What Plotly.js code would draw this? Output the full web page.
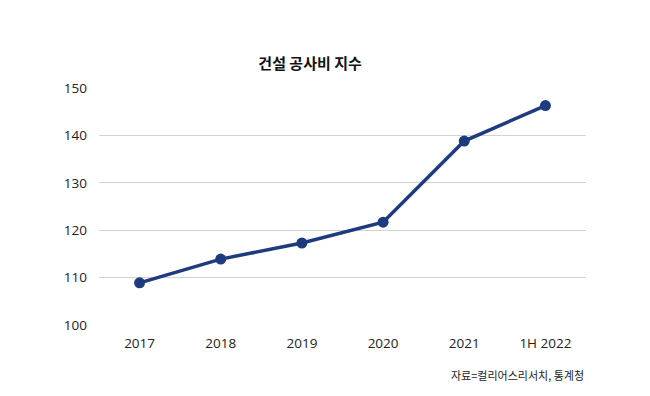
<!DOCTYPE html>
<html><head><meta charset="utf-8">
<script src="https://cdn.plot.ly/plotly-3.0.1.min.js"></script>
<style>html,body{margin:0;padding:0;background:#fff}#chart{width:650px;height:396px}</style>
</head><body><div id="chart"></div>
<script>
const categories = ["2017", "2018", "2019", "2020", "2021", "1H 2022"];
const values = [108.9, 113.9, 117.3, 121.7, 138.8, 146.3];
const yTicks = [100, 110, 120, 130, 140, 150];
const titleText = "건설 공사비 지수";
const sourceText = "자료=컬리어스리서치, 통계청";

const font = "'Open Sans', 'Noto Sans CJK KR', sans-serif";
Plotly.newPlot("chart", [{
  x: categories, y: values, type: "scatter", mode: "lines+markers",
  line: {color: "#1f3b80", width: 3.5},
  marker: {color: "#1f3b80", size: 11},
  hoverinfo: "skip"
}], {
  width: 650, height: 396,
  margin: {l: 99, r: 64, t: 88, b: 71},
  paper_bgcolor: "#fff", plot_bgcolor: "#fff",
  showlegend: false,
  font: {family: font, size: 13, color: "#222"},
  title: {text: titleText, x: 0.477, xref: "container", xanchor: "center", y: 1, yref: "paper", yanchor: "bottom", pad: {b: 19},
          font: {family: "'Noto Sans CJK KR', sans-serif", size: 15, color: "#111", weight: 700}},
  xaxis: {type: "category", range: [-0.5, 5.5], showgrid: false, zeroline: false, showline: false, ticks: "",
          ticklabelstandoff: 8, tickfont: {size: 13.5, color: "#222"}, fixedrange: true},
  yaxis: {range: [100, 150], tickvals: yTicks, showgrid: true, gridcolor: "#d2d2d2", gridwidth: 1.3,
          zeroline: false, showline: false, ticks: "", ticklen: 0, ticklabelstandoff: 11, tickfont: {size: 13.5, color: "#222"},
          fixedrange: true},
  annotations: [{text: sourceText, xref: "paper", yref: "paper", x: 1, y: 0, xanchor: "right", yanchor: "top",
                 yshift: -40, showarrow: false,
                 font: {family: "'Noto Sans CJK KR', sans-serif", size: 11, color: "#222"}}]
}, {staticPlot: true});
</script></body></html>
